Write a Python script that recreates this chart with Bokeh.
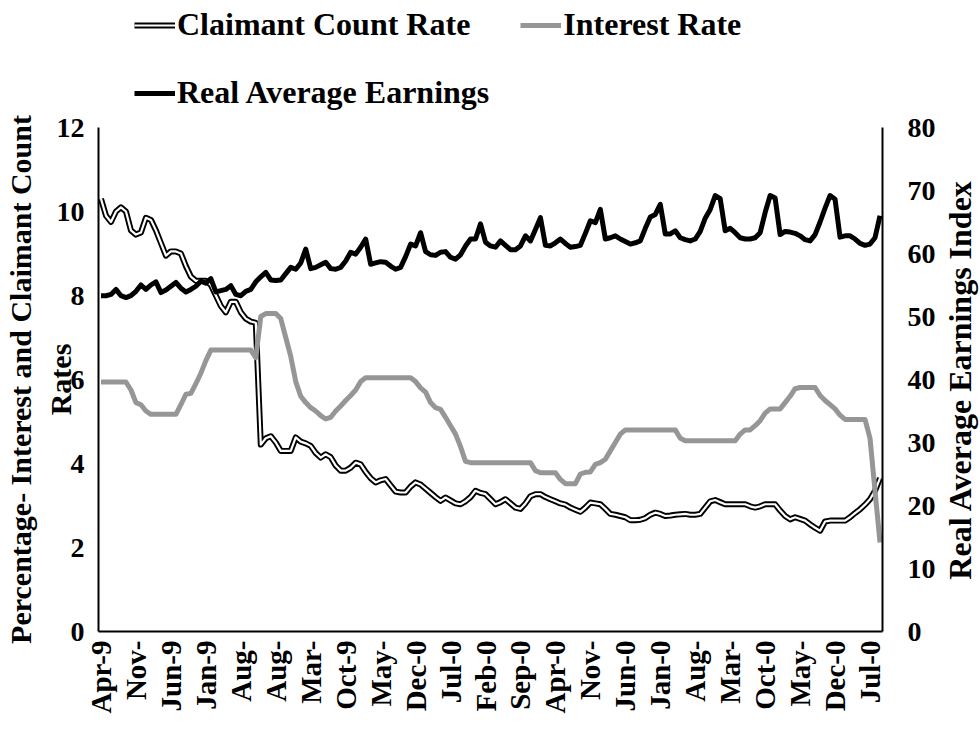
import math
from bokeh.plotting import figure
from bokeh.layouts import row, column
from bokeh.models import (Range1d, LinearAxis, Legend, LegendItem, FixedTicker,
                          ColumnDataSource)
from bokeh.embed import file_html
from bokeh.resources import INLINE

# ---------------- data ----------------
month_labels = ["Apr-9", "Nov-", "Jun-9", "Jan-9", "Aug-", "Aug-", "Mar-", "Oct-9",
                "May-", "Dec-0", "Jul-0", "Feb-0", "Sep-0", "Apr-0", "Nov-", "Jun-0",
                "Jan-0", "Aug-", "Mar-", "Oct-0", "May-", "Dec-0", "Jul-0"]
label_every = 7

claimant = [
    10.3, 9.9, 9.75, 10.0, 10.1, 10.0, 9.55, 9.45, 9.5, 9.85,
    9.8, 9.55, 9.25, 8.95, 9.05, 9.05, 9.0, 8.7, 8.45, 8.35,
    8.35, 8.35, 8.25, 8.0, 7.75, 7.6, 7.85, 7.85, 7.6, 7.45,
    7.38, 7.35, 4.45, 4.6, 4.65, 4.5, 4.3, 4.3, 4.3, 4.62,
    4.52, 4.48, 4.42, 4.25, 4.14, 4.22, 4.15, 3.95, 3.83, 3.83,
    3.9, 4.02, 3.98, 3.8, 3.65, 3.55, 3.6, 3.63, 3.48, 3.33,
    3.31, 3.31, 3.45, 3.55, 3.5, 3.4, 3.3, 3.2, 3.11, 3.19,
    3.12, 3.05, 3.03, 3.1, 3.2, 3.35, 3.3, 3.27, 3.15, 3.03,
    3.08, 3.15, 3.05, 2.95, 2.92, 3.05, 3.22, 3.27, 3.27, 3.2,
    3.15, 3.1, 3.05, 3.02, 2.95, 2.9, 2.85, 2.95, 3.07, 3.05,
    3.03, 2.92, 2.8, 2.78, 2.75, 2.72, 2.65, 2.65, 2.66, 2.7,
    2.78, 2.83, 2.8, 2.75, 2.76, 2.78, 2.79, 2.8, 2.78, 2.78,
    2.8, 2.95, 3.1, 3.13, 3.08, 3.03, 3.03, 3.03, 3.03, 3.03,
    2.98, 2.95, 2.98, 3.03, 3.03, 3.03, 2.88, 2.75, 2.67, 2.72,
    2.68, 2.64, 2.55, 2.47, 2.4, 2.62, 2.64, 2.64, 2.64, 2.64,
    2.72, 2.82, 2.91, 3.02, 3.15, 3.35, 3.65]

interest = [
    5.94, 5.94, 5.94, 5.94, 5.94, 5.94, 5.75, 5.45, 5.4, 5.25,
    5.17, 5.17, 5.17, 5.17, 5.17, 5.17, 5.4, 5.65, 5.67, 5.9,
    6.15, 6.45, 6.7, 6.7, 6.7, 6.7, 6.7, 6.7, 6.7, 6.7,
    6.7, 6.52, 7.5, 7.57, 7.57, 7.57, 7.45, 7.0, 6.55, 5.95,
    5.6, 5.45, 5.33, 5.25, 5.14, 5.06, 5.1, 5.25, 5.37, 5.5,
    5.62, 5.75, 5.95, 6.04, 6.04, 6.04, 6.04, 6.04, 6.04, 6.04,
    6.04, 6.04, 6.04, 5.95, 5.8, 5.7, 5.45, 5.33, 5.29, 5.1,
    4.9, 4.7, 4.4, 4.05, 4.02, 4.02, 4.02, 4.02, 4.02, 4.02,
    4.02, 4.02, 4.02, 4.02, 4.02, 4.02, 4.02, 3.83, 3.78, 3.78,
    3.78, 3.78, 3.62, 3.52, 3.52, 3.52, 3.75, 3.79, 3.8, 3.98,
    4.02, 4.1, 4.3, 4.5, 4.7, 4.8, 4.8, 4.8, 4.8, 4.8,
    4.8, 4.8, 4.8, 4.8, 4.8, 4.8, 4.6, 4.54, 4.54, 4.54,
    4.54, 4.54, 4.54, 4.54, 4.54, 4.54, 4.54, 4.54, 4.7, 4.8,
    4.8, 4.9, 5.02, 5.2, 5.3, 5.3, 5.3, 5.45, 5.6, 5.78,
    5.81, 5.81, 5.81, 5.81, 5.62, 5.5, 5.4, 5.3, 5.15, 5.05,
    5.05, 5.05, 5.05, 5.05, 4.6, 3.35, 2.12]

earnings = [
    53.3, 53.3, 53.5, 54.3, 53.3, 53.0, 53.3, 54.0, 55.0, 54.3,
    55.0, 55.5, 53.8, 54.2, 54.8, 55.4, 54.5, 53.9, 54.3, 54.8,
    55.6, 55.3, 56.0, 53.9, 54.1, 54.3, 54.9, 53.5, 53.3, 54.0,
    54.3, 55.5, 56.3, 57.0, 55.8, 55.7, 55.8, 56.8, 57.8, 57.5,
    58.5, 60.7, 57.6, 57.8, 58.2, 58.6, 57.6, 57.5, 57.8, 58.8,
    60.2, 59.9, 61.0, 62.3, 58.3, 58.5, 58.7, 58.6, 58.0, 57.5,
    57.8, 59.5, 61.5, 61.2, 63.3, 60.3, 59.8, 59.7, 60.2, 60.3,
    59.4, 59.1, 59.8, 61.2, 62.3, 62.3, 64.7, 61.8, 61.2, 61.0,
    62.0, 61.3, 60.6, 60.6, 61.2, 62.8, 62.0, 63.8, 65.7, 61.3,
    61.2, 61.7, 62.3, 61.6, 61.0, 61.1, 61.3, 63.2, 65.2, 64.9,
    67.0, 62.3, 62.5, 62.8, 62.3, 61.9, 61.5, 61.7, 62.0, 64.0,
    65.8, 66.2, 67.8, 63.1, 63.1, 63.6, 62.5, 62.2, 62.0, 62.3,
    63.5, 65.6, 67.0, 69.2, 68.7, 63.6, 64.0, 63.3, 62.5, 62.3,
    62.3, 62.5, 63.3, 66.5, 69.2, 68.8, 63.0, 63.5, 63.4, 63.2,
    62.8, 62.2, 62.0, 63.0, 65.0, 67.2, 69.2, 68.6, 62.6, 62.8,
    62.8, 62.3, 61.6, 61.3, 61.5, 62.5, 66.0]

left_ticks = [0, 2, 4, 6, 8, 10, 12]
right_ticks = [0, 10, 20, 30, 40, 50, 60, 70, 80]

FONT = "Liberation Serif"
GRAY = "#969696"
n = len(claimant)
src = ColumnDataSource(dict(x=list(range(n)), claimant=claimant,
                            interest=interest, earnings=earnings))

TOP, BOTTOM = 16, 95   # shared border sizes of the chart row


def style_axis(ax, size="28px"):
    ax.axis_line_color = "black"
    ax.axis_line_width = 2
    ax.major_tick_line_color = None
    ax.minor_tick_line_color = None
    ax.major_tick_out = 0
    ax.major_tick_in = 0
    ax.minor_tick_out = 0
    ax.minor_tick_in = 0
    ax.major_label_text_font = FONT
    ax.major_label_text_font_style = "bold"
    ax.major_label_text_font_size = size
    ax.major_label_text_color = "black"
    ax.axis_label_text_font = FONT
    ax.axis_label_text_font_style = "bold"
    ax.axis_label_text_font_size = "32px"
    ax.axis_label_text_color = "black"


# ---------------- main chart ----------------
p = figure(frame_width=784, frame_height=504, output_backend="svg",
           toolbar_location=None,
           x_range=Range1d(-0.5, n - 0.5), y_range=Range1d(0, 12),
           min_border_left=96, min_border_right=52, min_border_top=TOP,
           min_border_bottom=BOTTOM)
p.extra_y_ranges = {"earn": Range1d(0, 80)}
p.outline_line_color = None
p.xgrid.visible = False
p.ygrid.visible = False

xa = p.xaxis[0]
style_axis(xa, "29px")
xa.ticker = FixedTicker(ticks=[i * label_every for i in range(len(month_labels))])
xa.major_label_overrides = {i * label_every: lab for i, lab in enumerate(month_labels)}
xa.major_label_orientation = math.pi / 2
xa.major_label_standoff = 9

ya = p.yaxis[0]
style_axis(ya)
ya.ticker = FixedTicker(ticks=left_ticks)
ya.major_label_standoff = 14
ya.axis_label = "Percentage- Interest and Claimant Count\nRates"
ya.axis_label_text_font_size = "30px"
ya.axis_label_standoff = -23

ra = LinearAxis(y_range_name="earn", ticker=FixedTicker(ticks=right_ticks))
style_axis(ra)
ra.major_label_standoff = 25
p.add_layout(ra, "right")

p.line("x", "claimant", source=src, line_color="black", line_width=6, line_join="round")
p.line("x", "claimant", source=src, line_color="white", line_width=2.2, line_join="round")
p.line("x", "interest", source=src, line_color=GRAY, line_width=5, line_join="round")
p.line("x", "earnings", source=src, line_color="black", line_width=5,
       line_join="round", y_range_name="earn")

# ---------------- legend strip above the chart ----------------
pl = figure(width=972, height=111, output_backend="svg", toolbar_location=None,
            x_axis_location=None, y_axis_location=None,
            x_range=Range1d(0, 1), y_range=Range1d(0, 1),
            min_border_left=0, min_border_right=0, min_border_top=0,
            min_border_bottom=0)
pl.outline_line_color = None
pl.xgrid.visible = False
pl.ygrid.visible = False
# legend keys (styled like the chart lines; kept outside the visible range)
key_x = [0, 1]
key_y = [-10, -10]
k_outer = pl.line(key_x, key_y, line_color="black", line_width=6)
k_inner = pl.line(key_x, key_y, line_color="white", line_width=2.2)
k_int = pl.line(key_x, key_y, line_color=GRAY, line_width=5)
k_earn = pl.line(key_x, key_y, line_color="black", line_width=5)

legend = Legend(items=[
    LegendItem(label="Claimant Count Rate", renderers=[k_outer, k_inner]),
    LegendItem(label="Interest Rate", renderers=[k_int]),
    LegendItem(label="Real Average Earnings", renderers=[k_earn]),
], orientation="horizontal", ncols=2, location=(134, 0))
legend.label_text_font = FONT
legend.label_text_font_style = "bold"
legend.label_text_font_size = "32px"
legend.label_text_color = "black"
legend.glyph_width = 41
legend.glyph_height = 36
legend.label_height = 36
legend.label_standoff = 2
legend.spacing = 31
legend.padding = 0
legend.margin = 0
legend.border_line_color = None
legend.background_fill_alpha = 0
pl.add_layout(legend)

# ---------------- right-hand axis title panel ----------------
p2 = figure(width=44, height=TOP + 504 + BOTTOM, output_backend="svg",
            toolbar_location=None, x_axis_location=None,
            x_range=Range1d(0, 1), y_range=Range1d(0, 1),
            min_border_left=0, min_border_right=0, min_border_top=TOP,
            min_border_bottom=BOTTOM)
p2.outline_line_color = None
p2.xgrid.visible = False
p2.ygrid.visible = False
ta = p2.yaxis[0]
style_axis(ta)
ta.axis_line_color = None
ta.ticker = FixedTicker(ticks=[])
ta.major_label_standoff = 0
ta.axis_label_standoff = 0
ta.axis_label = "Real Average Earnings Index"

layout = column(pl, row(p, p2))
open("out.html", "w").write(file_html(layout, INLINE))
